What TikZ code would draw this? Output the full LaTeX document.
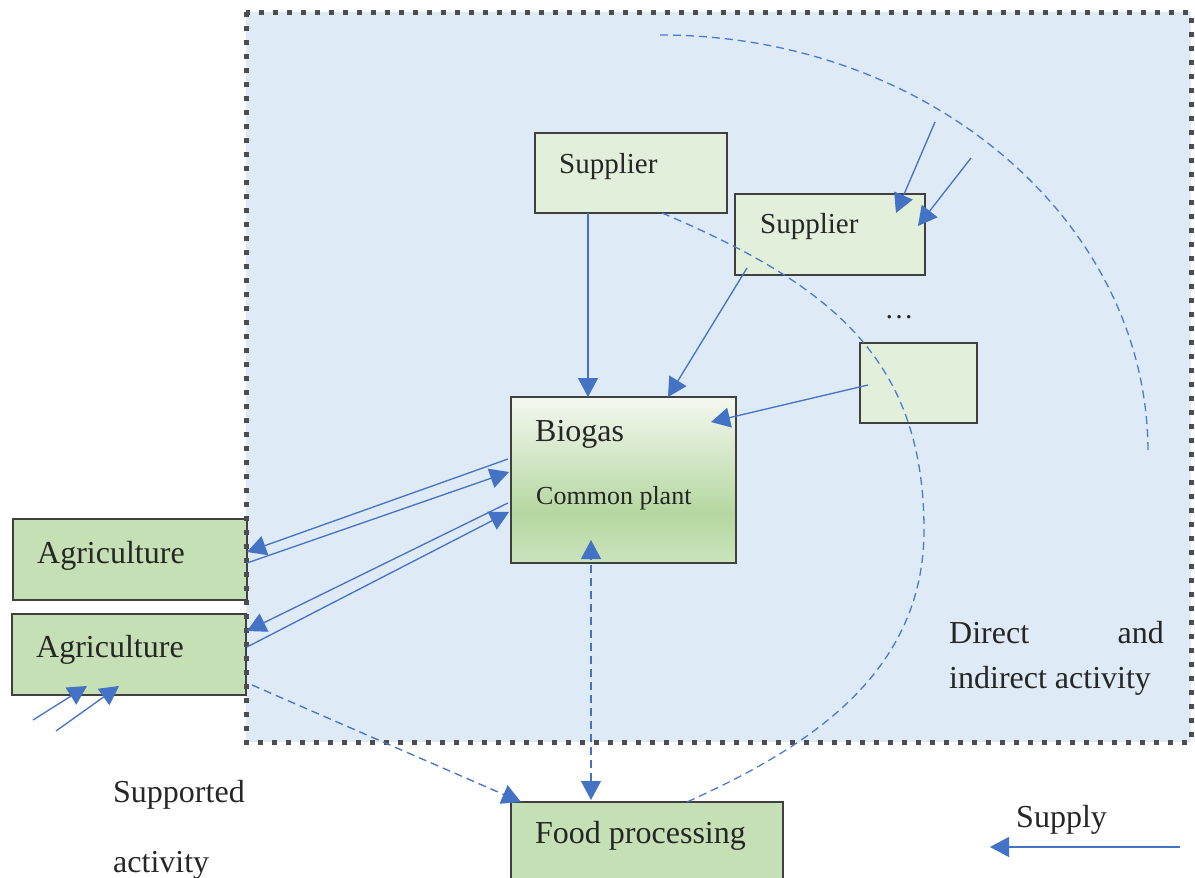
\documentclass[tikz,border=0pt]{standalone}
\usepackage{fontspec}
\setmainfont{Liberation Serif}
\usetikzlibrary{arrows.meta}
\definecolor{bgblue}{HTML}{DEEAF6}
\definecolor{lgreen}{HTML}{E2EFDA}
\definecolor{mgreen}{HTML}{C5E0B4}
\definecolor{arrowblue}{HTML}{4472C4}
\definecolor{dashblue}{HTML}{4A7BD0}
\definecolor{edgegray}{HTML}{404040}
\definecolor{dotgray}{HTML}{4D4D4D}
\definecolor{txtgray}{HTML}{262626}
\definecolor{bgTop}{HTML}{F4F8F0}
\definecolor{bgMid}{HTML}{B5D7A0}
\definecolor{bgBot}{HTML}{CBE4BC}
\pgfdeclareverticalshading{biogasshade}{100bp}{color(0bp)=(bgBot); color(25bp)=(bgBot); color(40bp)=(bgMid); color(75bp)=(bgTop); color(100bp)=(bgTop)}
\begin{document}
\begin{tikzpicture}[x=1pt, y=-1pt,
  box/.style={draw=edgegray, line width=1.3pt, inner sep=0pt, outer sep=0pt, rectangle},
  lbox/.style={box, fill=lgreen},
  gbox/.style={box, fill=mgreen},
  lab/.style={text=txtgray, inner sep=0pt, anchor=base west, font=\fontsize{32}{38}\selectfont},
  slab/.style={lab, font=\fontsize{29}{34}\selectfont},
  tip/.style={-{Triangle[length=19pt,width=20pt]}},
  flow/.style={draw=arrowblue, line width=1.3pt, tip},
  dflow/.style={flow, dash pattern=on 8pt off 5pt},
  arcline/.style={draw=dashblue, line width=1.3pt, dash pattern=on 8pt off 5pt}
]
\useasboundingbox (0,0) rectangle (1195,878);
\clip (0,0) rectangle (1195,878);

% region
\fill[bgblue] (246,12) rectangle (1191,742);

% boxes
\node[lbox, minimum width=192pt, minimum height=80pt] (sup1) at (631,173) {};
\node[lbox, minimum width=190pt, minimum height=81pt] (sup2) at (830,234.5) {};
\node[lbox, minimum width=117pt, minimum height=80pt] (blank) at (918.5,383) {};
\node[box, shade, shading=biogasshade, minimum width=225pt, minimum height=166pt] (bio) at (623.5,480) {};
\node[gbox, minimum width=234pt, minimum height=81pt] (agri1) at (130,559.5) {};
\node[gbox, minimum width=234pt, minimum height=81pt] (agri2) at (129,654.5) {};
\node[gbox, minimum width=272pt, minimum height=88pt] (food) at (647,846) {};

% dotted border
\draw[dotgray, line width=5pt, dash pattern=on 5pt off 9pt] (246,12) rectangle (1191,742);

% texts
\node[slab] (t-sup1) at (559,173) {Supplier};
\node[slab] (t-sup2) at (760,233) {Supplier};
\node[slab, anchor=base] (t-dots) at (899,318) {…};
\node[lab] (t-bio) at (535,441) {Biogas};
\node[lab, font=\fontsize{26}{31}\selectfont] (t-plant) at (536,504) {Common plant};
\node[lab] (t-agri1) at (37,563) {Agriculture};
\node[lab] (t-agri2) at (36,657) {Agriculture};
\node[lab] (t-food) at (535,843) {Food processing};
\node[lab] (t-supd) at (113,802) {Supported};
\node[lab] (t-supd2) at (113,872) {activity};
\node[lab] (t-dir) at (949,643) {Direct};
\node[lab, anchor=base east] (t-and) at (1164,643) {and};
\node[lab] (t-ind) at (949,688) {indirect activity};
\node[lab] (t-supply) at (1016,827) {Supply};

% dashed arcs
\coordinate (arcA) at (660,35);
\draw[arcline] (arcA) arc[start angle=90, end angle=0, x radius=488pt, y radius=417pt];
\coordinate (arcB) at (662,213);
\coordinate (arcC) at (924,530);
\draw[arcline] (arcB) .. controls (832,285) and (924,360) .. (arcC)
  .. controls (924,680) and (797,752) .. ([xshift=176pt]food.north west);

% supply arrows
\draw[flow] ([xshift=53pt]sup1.south west) -- ([xshift=77pt]bio.north west);
\draw[flow] ([xshift=12pt,yshift=7pt]sup2.south west) -- ([xshift=157pt]bio.north west);
\draw[flow] ([xshift=8pt,yshift=-2pt]blank.west) -- ([xshift=-25pt,yshift=-25pt]bio.north east);
\coordinate (in1) at (935,122);
\coordinate (in2) at (971,158);
\draw[flow] (in1) -- ([xshift=-29pt,yshift=-19pt]sup2.north east);
\draw[flow] (in2) -- ([xshift=-7pt,yshift=-32pt]sup2.north east);

% biogas <-> agriculture
\draw[flow] ([xshift=-3pt,yshift=21pt]bio.west) -- ([yshift=7.5pt]agri1.east);
\draw[flow] ([yshift=-3.5pt]agri1.east) -- ([xshift=-2pt,yshift=8pt]bio.west);
\draw[flow] ([xshift=-3pt,yshift=-23pt]bio.west) -- ([xshift=1pt,yshift=23.5pt]agri2.east);
\draw[flow] ([xshift=1pt,yshift=7.5pt]agri2.east) -- ([xshift=-2pt,yshift=-32pt]bio.west);

% into agriculture 2
\coordinate (in3) at (33,720);
\coordinate (in4) at (56,731);
\draw[flow] (in3) -- ([xshift=75pt,yshift=9pt]agri2.south west);
\draw[flow] (in4) -- ([xshift=107pt,yshift=9pt]agri2.south west);

% dashed flows
\draw[dflow] ([xshift=6pt,yshift=10pt]agri2.south east) -- ([xshift=10pt]food.north west);
\draw[dflow, {Triangle[length=19pt,width=20pt]}-{Triangle[length=19pt,width=20pt]}] ([xshift=80pt,yshift=2pt]food.north west) -- ([xshift=80pt,yshift=23pt]bio.south west);

% legend
\coordinate (lg1) at (1180,847);
\coordinate (lg2) at (990,847);
\draw[flow] (lg1) -- (lg2);
\end{tikzpicture}
\end{document}
